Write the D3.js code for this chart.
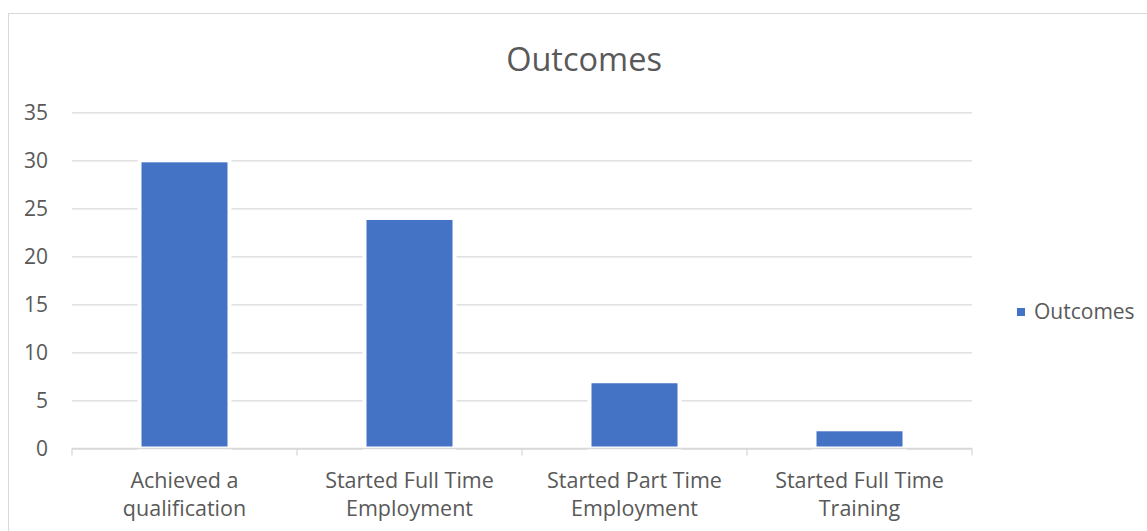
<!DOCTYPE html>
<html>
<head>
<meta charset="utf-8">
<script src="https://cdn.jsdelivr.net/npm/d3@7"></script>
<style>
  html, body { margin: 0; padding: 0; background: #ffffff; }
  svg { display: block; font-family: "Open Sans", sans-serif; }
</style>
</head>
<body>
<svg id="chart" width="1147" height="531"></svg>
<script>
const chartTitle = "Outcomes";
const seriesName = "Outcomes";
const categories = ["Achieved a qualification", "Started Full Time Employment", "Started Part Time Employment", "Started Full Time Training"];
const categoryLines = [["Achieved a", "qualification"], ["Started Full Time", "Employment"], ["Started Part Time", "Employment"], ["Started Full Time", "Training"]];
const values = [30, 24, 7, 2];
const yTicks = [0, 5, 10, 15, 20, 25, 30, 35];

const svg = d3.select("#chart");
const textColor = "#595959";
const gridColor = "#d9d9d9";
const barColor = "#4472C4";

const plotLeft = 72, plotRight = 972, plotTop = 112.3, plotBottom = 448.5;

// chart frame
svg.append("rect")
  .attr("x", 8.5).attr("y", 13.5)
  .attr("width", 1300).attr("height", 700)
  .attr("fill", "none").attr("stroke", gridColor).attr("stroke-width", 1);

const x = d3.scaleBand().domain(categories).range([plotLeft, plotRight])
  .paddingInner(0.6).paddingOuter(0.3);
const y = d3.scaleLinear().domain([0, 35]).range([plotBottom, plotTop]);

// gridlines + y labels
const yAxis = d3.axisLeft(y).tickValues(yTicks).tickSize(-(plotRight - plotLeft)).tickPadding(24).tickFormat(d3.format("d"));
const gy = svg.append("g").attr("transform", `translate(${plotLeft},0)`).call(yAxis);
gy.select(".domain").remove();
gy.selectAll(".tick line").attr("stroke", gridColor).attr("stroke-width", 1.3);
gy.selectAll(".tick text").attr("fill", textColor).style("font-size", "21px")
  .style("font-family", "'Open Sans', sans-serif");

// bars
svg.append("g").selectAll("rect").data(values).join("rect")
  .attr("x", (d, i) => x(categories[i]))
  .attr("y", d => y(d))
  .attr("width", x.bandwidth())
  .attr("height", d => y(0) - y(d))
  .attr("fill", barColor)
  .attr("stroke", "#ffffff")
  .attr("stroke-width", 4);

// x axis line and tick marks at category boundaries
const step = x.step();
const boundaries = categories.map(c => x(c) + x.bandwidth() / 2 - step / 2);
boundaries.push(x(categories[categories.length - 1]) + x.bandwidth() / 2 + step / 2);
const gx = svg.append("g");
gx.append("line")
  .attr("x1", plotLeft).attr("x2", plotRight)
  .attr("y1", y(0)).attr("y2", y(0))
  .attr("stroke", gridColor).attr("stroke-width", 1.3);
gx.selectAll("line.tk").data(boundaries).join("line").attr("class", "tk")
  .attr("x1", d => d).attr("x2", d => d)
  .attr("y1", y(0)).attr("y2", y(0) + 7)
  .attr("stroke", gridColor).attr("stroke-width", 1.3);

// category labels
const labels = svg.append("g").selectAll("text").data(categories).join("text")
  .attr("x", c => x(c) + x.bandwidth() / 2)
  .attr("y", 487.5)
  .attr("text-anchor", "middle")
  .attr("fill", textColor)
  .style("font-size", "21.5px");
labels.each(function (c, i) {
  d3.select(this).selectAll("tspan").data(categoryLines[i]).join("tspan")
    .attr("x", x(c) + x.bandwidth() / 2)
    .attr("dy", (d, j) => j === 0 ? 0 : 28.5)
    .text(d => d);
});

// title
svg.append("text")
  .attr("x", 584).attr("y", 70.5)
  .attr("text-anchor", "middle")
  .attr("fill", textColor)
  .style("font-size", "32.5px")
  .text(chartTitle);

// legend
const lg = svg.append("g").attr("transform", "translate(1017,308)");
lg.append("rect").attr("x", 0).attr("y", 0).attr("width", 8).attr("height", 8).attr("fill", barColor);
lg.append("text").attr("x", 17).attr("y", 4).attr("dy", "0.35em")
  .attr("fill", textColor).style("font-size", "21px").text(seriesName);
</script>
</body>
</html>
